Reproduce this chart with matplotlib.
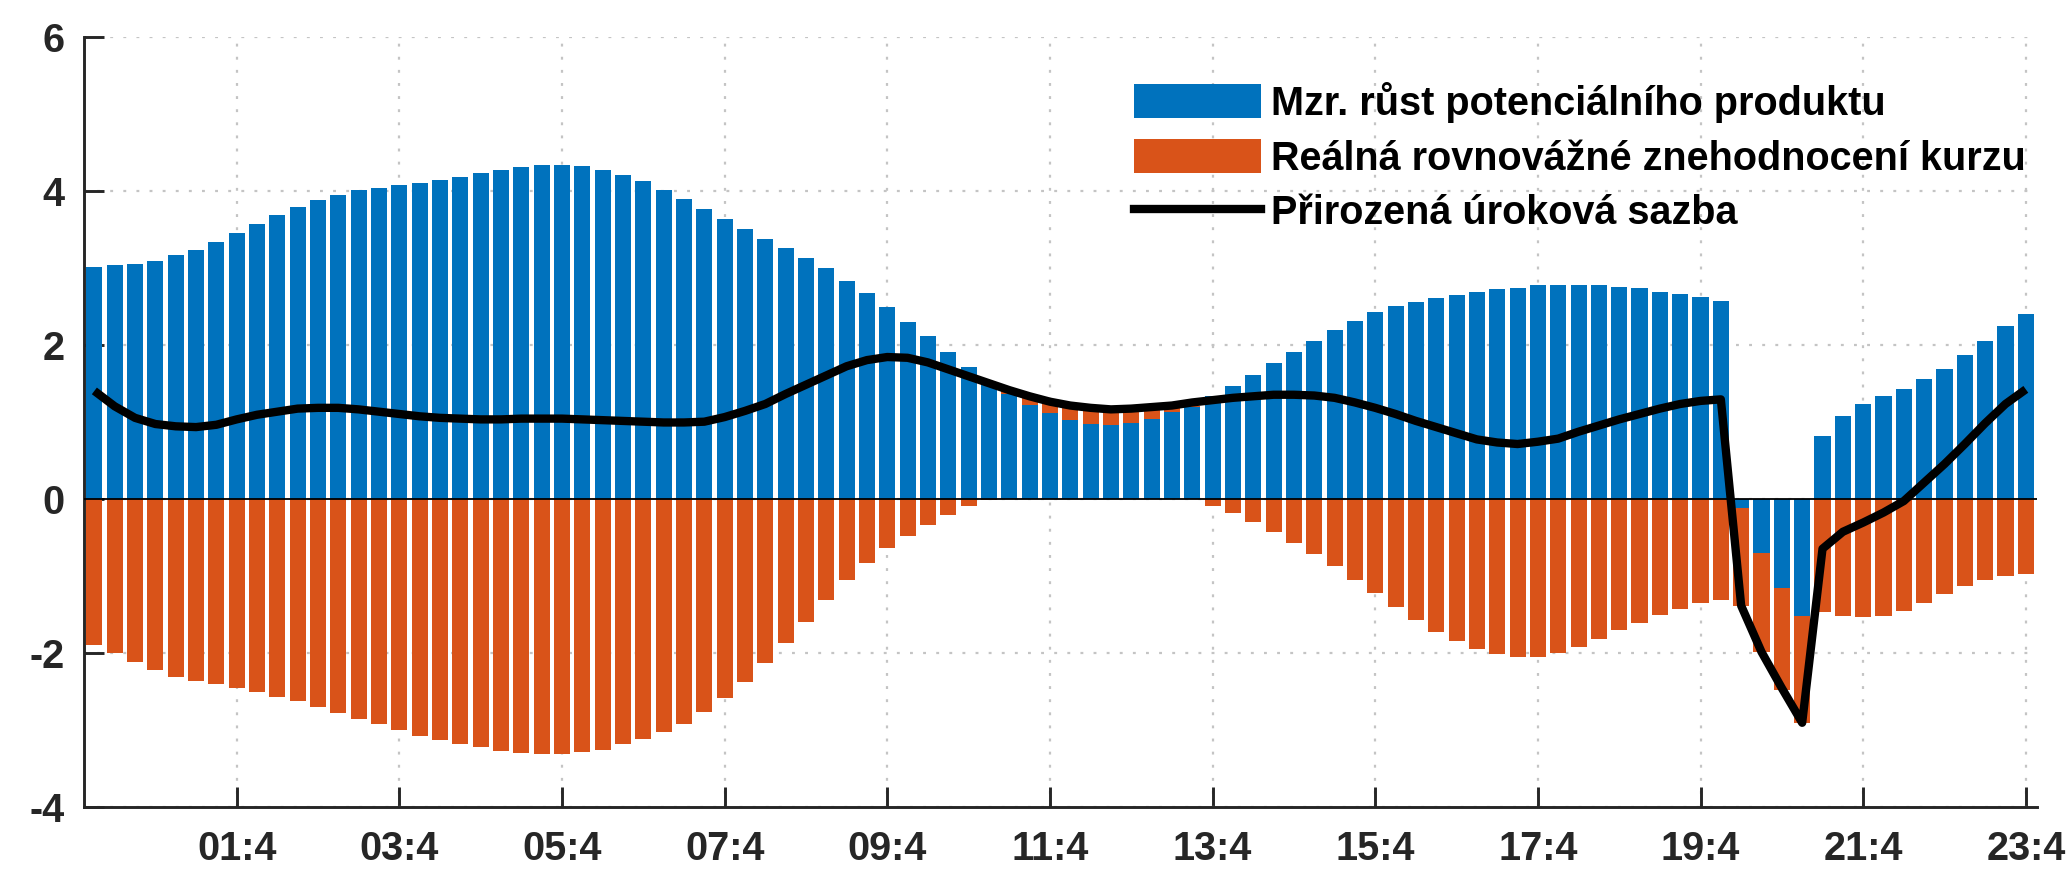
import numpy as np
import matplotlib
matplotlib.use("Agg")
import matplotlib.pyplot as plt
from matplotlib.patches import Patch
from matplotlib.lines import Line2D
from matplotlib.font_manager import FontProperties

plt.rcParams["axes.unicode_minus"] = False

# Quarterly decomposition 2000Q1 - 2023Q4
growth = [
    3.01, 3.03, 3.05, 3.09, 3.16, 3.23, 3.34, 3.45, 3.57, 3.68, 3.79, 3.88,
    3.95, 4.01, 4.04, 4.07, 4.10, 4.14, 4.18, 4.23, 4.27, 4.31, 4.33, 4.34,
    4.32, 4.27, 4.21, 4.12, 4.01, 3.89, 3.76, 3.63, 3.50, 3.37, 3.25, 3.12,
    2.99, 2.83, 2.67, 2.49, 2.30, 2.11, 1.91, 1.71, 1.52, 1.36, 1.22, 1.11,
    1.02, 0.97, 0.96, 0.98, 1.03, 1.12, 1.19, 1.34, 1.47, 1.61, 1.76, 1.90,
    2.05, 2.19, 2.31, 2.42, 2.50, 2.56, 2.61, 2.65, 2.69, 2.72, 2.74, 2.77,
    2.77, 2.78, 2.77, 2.75, 2.73, 2.69, 2.66, 2.62, 2.57, -0.12, -0.71, -1.16,
    -1.52, 0.81, 1.07, 1.23, 1.34, 1.43, 1.55, 1.69, 1.86, 2.05, 2.24, 2.40,
]
exchange = [
    -1.90, -2.01, -2.12, -2.22, -2.31, -2.37, -2.41, -2.46, -2.51, -2.57, -2.63, -2.70,
    -2.78, -2.86, -2.93, -3.01, -3.08, -3.13, -3.18, -3.23, -3.28, -3.30, -3.31, -3.31,
    -3.29, -3.26, -3.19, -3.12, -3.03, -2.92, -2.77, -2.59, -2.38, -2.13, -1.87, -1.60,
    -1.31, -1.05, -0.83, -0.64, -0.48, -0.34, -0.21, -0.10, -0.02, 0.04, 0.10, 0.13,
    0.17, 0.19, 0.19, 0.17, 0.14, 0.07, 0.02, -0.09, -0.19, -0.30, -0.43, -0.57,
    -0.72, -0.88, -1.06, -1.23, -1.41, -1.57, -1.73, -1.85, -1.95, -2.02, -2.05, -2.05,
    -2.00, -1.92, -1.82, -1.71, -1.61, -1.51, -1.43, -1.36, -1.31, -1.27, -1.28, -1.32,
    -1.39, -1.47, -1.52, -1.54, -1.52, -1.46, -1.35, -1.24, -1.14, -1.06, -1.01, -0.98,
]
natural_rate = [
    1.40, 1.20, 1.05, 0.97, 0.94, 0.93, 0.96, 1.03, 1.09, 1.13, 1.17, 1.18,
    1.18, 1.16, 1.13, 1.10, 1.07, 1.05, 1.04, 1.03, 1.03, 1.04, 1.04, 1.04,
    1.03, 1.02, 1.01, 1.00, 0.99, 0.99, 1.00, 1.06, 1.14, 1.23, 1.36, 1.48,
    1.60, 1.72, 1.80, 1.84, 1.83, 1.77, 1.68, 1.59, 1.50, 1.41, 1.33, 1.26,
    1.21, 1.18, 1.16, 1.17, 1.19, 1.21, 1.25, 1.28, 1.31, 1.33, 1.35, 1.35,
    1.34, 1.31, 1.25, 1.18, 1.10, 1.01, 0.93, 0.85, 0.77, 0.73, 0.71, 0.74,
    0.78, 0.87, 0.95, 1.03, 1.10, 1.17, 1.23, 1.27, 1.29, -1.39, -1.99, -2.46,
    -2.91, -0.65, -0.43, -0.31, -0.18, -0.03, 0.21, 0.45, 0.71, 0.98, 1.23, 1.42,
]
tick_labels = ["01:4", "03:4", "05:4", "07:4", "09:4", "11:4",
               "13:4", "15:4", "17:4", "19:4", "21:4", "23:4"]
series_names = ["Mzr. růst potenciálního produktu",
                "Reálná rovnovážné znehodnocení kurzu",
                "Přirozená úroková sazba"]

BLUE = "#0072BD"
ORANGE = "#D95319"
AXC = "#262626"

g = np.array(growth)
e = np.array(exchange)
x = np.arange(len(g))

# stacked bars: positives stack upward, negatives downward
same_sign = np.sign(g) == np.sign(e)
e_bottom = np.where(same_sign, g, 0.0)

W, H = 2071, 869
fig = plt.figure(figsize=(W / 100, H / 100), dpi=100)
ax = fig.add_axes([84.2 / W, 62.3 / H, (2037 - 84.2) / W, 770 / H])

ax.bar(x, g, width=0.79, color=BLUE, linewidth=0, zorder=2)
ax.bar(x, e, width=0.79, bottom=e_bottom, color=ORANGE, linewidth=0, zorder=2)
ax.axhline(0, color="black", lw=1.3, zorder=3)
ax.plot(x, natural_rate, color="black", lw=6.0, zorder=4,
        solid_joinstyle="round", solid_capstyle="butt")

ax.set_xlim(-0.5, 95.55)
ax.set_ylim(-4, 6)
ax.set_yticks([-4, -2, 0, 2, 4, 6])
ax.set_xticks(np.arange(7, 96, 8))
ax.set_xticklabels(tick_labels)

tick_font = FontProperties(family="Liberation Sans", weight="bold", size=28.5)
for lab in ax.get_xticklabels() + ax.get_yticklabels():
    lab.set_fontproperties(tick_font)
    lab.set_color(AXC)

ax.tick_params(axis="both", direction="in", length=14.4, width=2.1, color=AXC)
ax.tick_params(axis="x", pad=17)
ax.tick_params(axis="y", pad=14)

for side in ("top", "right"):
    ax.spines[side].set_visible(False)
for side in ("left", "bottom"):
    ax.spines[side].set_color(AXC)
    ax.spines[side].set_linewidth(2.1)

ax.set_axisbelow(True)
ax.grid(True, color="#c4c4c4", lw=1.6, linestyle=(0, (1.3, 4.6)))

handles = [Patch(facecolor=BLUE, edgecolor="none"),
           Patch(facecolor=ORANGE, edgecolor="none"),
           Line2D([0], [0], color="black", lw=6.0)]
leg = ax.legend(handles, series_names, loc="upper left",
                bbox_to_anchor=(1134 / W, 1 - 82 / H), bbox_transform=fig.transFigure,
                frameon=False, borderpad=0, borderaxespad=0,
                handlelength=3.2, handleheight=0.95, handletextpad=0.27,
                labelspacing=0.4,
                prop=FontProperties(family="Liberation Sans", weight="bold", size=28.5))
leg.set_zorder(5)

fig.savefig("out.png", dpi=100, facecolor="white")
